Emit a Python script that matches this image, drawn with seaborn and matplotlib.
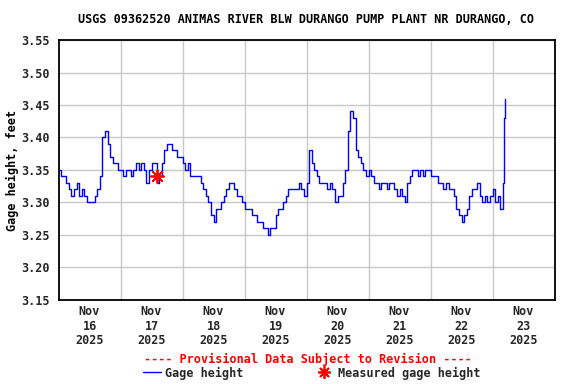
import numpy as np
import pandas as pd
import matplotlib
matplotlib.use("Agg")
import matplotlib.pyplot as plt
import matplotlib.dates as mdates
from matplotlib.lines import Line2D
import seaborn as sns

# ---------------- data ----------------
title = "USGS 09362520 ANIMAS RIVER BLW DURANGO PUMP PLANT NR DURANGO, CO"
start_time = "2025-11-16 00:00"
end_time = "2025-11-24 00:00"
gage_hourly = [
    3.35, 3.34, 3.34, 3.33, 3.32, 3.31, 3.32, 3.33, 3.31, 3.32, 3.31, 3.30,
    3.30, 3.30, 3.31, 3.32, 3.34, 3.40, 3.41, 3.39, 3.37, 3.36, 3.36, 3.35,
    3.35, 3.34, 3.35, 3.35, 3.34, 3.35, 3.36, 3.35, 3.36, 3.35, 3.33, 3.35,
    3.36, 3.36, 3.33, 3.34, 3.36, 3.38, 3.39, 3.39, 3.38, 3.38, 3.37, 3.37,
    3.36, 3.35, 3.36, 3.34, 3.34, 3.34, 3.34, 3.33, 3.32, 3.31, 3.30, 3.28,
    3.27, 3.29, 3.29, 3.30, 3.31, 3.32, 3.33, 3.33, 3.32, 3.31, 3.31, 3.30,
    3.29, 3.29, 3.29, 3.28, 3.28, 3.27, 3.27, 3.26, 3.26, 3.25, 3.26, 3.26,
    3.28, 3.29, 3.29, 3.30, 3.31, 3.32, 3.32, 3.32, 3.32, 3.33, 3.32, 3.31,
    3.33, 3.38, 3.36, 3.35, 3.34, 3.33, 3.33, 3.33, 3.32, 3.33, 3.32, 3.30,
    3.31, 3.31, 3.33, 3.35, 3.41, 3.44, 3.43, 3.38, 3.37, 3.36, 3.35, 3.34,
    3.35, 3.34, 3.33, 3.33, 3.32, 3.33, 3.33, 3.32, 3.33, 3.33, 3.32, 3.31,
    3.32, 3.31, 3.30, 3.33, 3.34, 3.35, 3.35, 3.34, 3.35, 3.34, 3.35, 3.35,
    3.34, 3.34, 3.34, 3.33, 3.33, 3.32, 3.33, 3.32, 3.32, 3.31, 3.29, 3.28,
    3.27, 3.28, 3.29, 3.31, 3.32, 3.32, 3.33, 3.31, 3.30, 3.31, 3.30, 3.31,
    3.32, 3.30, 3.31, 3.29, 3.30,
]
final_times = ["2025-11-23 04:15", "2025-11-23 04:30", "2025-11-23 04:45"]
final_values = [3.33, 3.43, 3.46]

measured_time = ["2025-11-17 14:15"]
measured_value = [3.34]

y_ticks = [3.15, 3.20, 3.25, 3.30, 3.35, 3.40, 3.45, 3.50, 3.55]
day_labels = ["Nov\n16\n2025", "Nov\n17\n2025", "Nov\n18\n2025", "Nov\n19\n2025",
              "Nov\n20\n2025", "Nov\n21\n2025", "Nov\n22\n2025", "Nov\n23\n2025"]

# ---------------- frames ----------------
times = list(pd.date_range(start_time, periods=len(gage_hourly), freq="h")) + \
    list(pd.to_datetime(final_times))
df = pd.DataFrame({"time": times, "gage": gage_hourly + final_values})
meas = pd.DataFrame({"time": pd.to_datetime(measured_time), "gage": measured_value})

# ---------------- style ----------------
sns.set_theme(style="white")
plt.rcParams["font.family"] = ["DejaVu Sans Mono"]
plt.rcParams["font.weight"] = "bold"
FS = 8.5

fig = plt.figure(figsize=(5.76, 3.84), dpi=100)
ax = fig.add_axes([58.5 / 576, 1 - 299.5 / 384, (554.5 - 58.5) / 576, (299.5 - 39.5) / 384])

sns.lineplot(data=df, x="time", y="gage", ax=ax, color="#0000ff", lw=1.0,
             drawstyle="steps-post", zorder=3)
sns.scatterplot(data=meas, x="time", y="gage", ax=ax, color="red",
                marker=(8, 2, 0), s=90, linewidth=1.3, edgecolor="red", zorder=4)

t0 = pd.Timestamp(start_time)
ax.set_xlim(t0, pd.Timestamp(end_time))
ax.set_ylim(3.15, 3.551)

ax.set_yticks(y_ticks)
ax.set_yticklabels([f"{v:.2f}" for v in y_ticks], fontsize=FS, fontweight="bold")

noon_ticks = [t0 + pd.Timedelta(hours=12 + 24 * i) for i in range(len(day_labels))]
midnight_ticks = [t0 + pd.Timedelta(days=i) for i in range(1, 8)]
ax.set_xticks(noon_ticks)
ax.set_xticklabels(day_labels, fontsize=FS, fontweight="bold", linespacing=1.15)
ax.set_xticks(midnight_ticks, minor=True)

ax.grid(False)
ax.grid(True, which="minor", axis="x", color="#c8c8c8", lw=1.0)
ax.grid(True, which="major", axis="y", color="#c8c8c8", lw=1.0)
ax.set_axisbelow(True)
ax.tick_params(axis="both", which="both", length=0)
ax.tick_params(axis="y", pad=6)
ax.tick_params(axis="x", pad=4)

for sp in ax.spines.values():
    sp.set_color("black")
    sp.set_linewidth(1.3)

ax.set_xlabel("")
ax.set_ylabel("")
fig.text(12 / 576, 1 - 170 / 384, "Gage height, feet", rotation=90,
         ha="center", va="center", fontsize=FS, fontweight="bold", color="black")

fig.text(306 / 576, 1 - 19.5 / 384, title, ha="center", va="center",
         fontsize=FS, fontweight="bold", color="black")
fig.text(308 / 576, 1 - 359 / 384, "---- Provisional Data Subject to Revision ----",
         ha="center", va="center", fontsize=FS, fontweight="bold", color="red")

handles = [
    Line2D([], [], color="#0000ff", lw=1.0),
    Line2D([], [], color="red", marker=(8, 2, 0), linestyle="none",
           markersize=9, markeredgewidth=1.3),
]
fig.legend(handles, ["Gage height", "Measured gage height"], loc="center",
           bbox_to_anchor=(311.7 / 576, 1 - 373 / 384), ncol=2, frameon=False,
           prop={"family": "DejaVu Sans Mono", "weight": "bold", "size": FS},
           handlelength=1.5, handletextpad=0.4, columnspacing=6.1,
           borderpad=0.0)

fig.savefig("out.png", dpi=100, facecolor="white")
